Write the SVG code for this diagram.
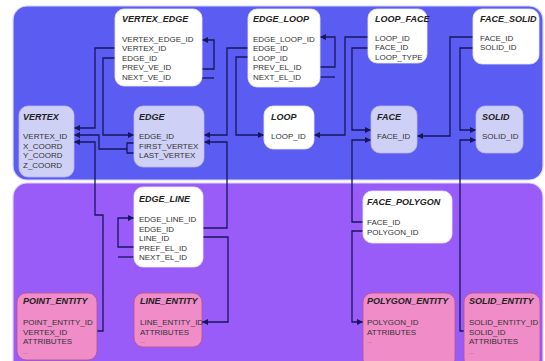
<svg xmlns="http://www.w3.org/2000/svg" width="545" height="361" viewBox="0 0 545 361">
  <style>
    .panel-top { fill: #5a5cf2; stroke: #d8d8ff; stroke-width: 1.2; }
    .panel-bot { fill: #9a5cf8; stroke: #e0d0ff; stroke-width: 1.2; }
    .white { fill: #ffffff; stroke: #e8e8f4; stroke-width: 0.8; }
    .lav { fill: #cfd0f6; stroke: #b8b8ee; stroke-width: 0.8; }
    .pink { fill: #f08cc8; stroke: #b8508e; stroke-width: 0.8; }
    .title { font-family: "Liberation Sans", Arial, sans-serif; font-size: 9px; font-weight: bold; font-style: italic; fill: #222; }
    .row { font-family: "Liberation Sans", Arial, sans-serif; font-size: 8px; fill: #333; }
    .dots { font-family: "Liberation Sans", Arial, sans-serif; font-size: 6px; fill: #666; }
    .link { fill: none; stroke: #16165c; stroke-width: 1.3; marker-end: url(#arrow); }
    .link-plain { fill: none; stroke: #16165c; stroke-width: 1.3; }
  </style>
  <defs>
    <marker id="arrow" viewBox="0 0 6 6" refX="6" refY="3" markerWidth="6" markerHeight="6" markerUnits="userSpaceOnUse" orient="auto">
      <path d="M0,0 L6,3 L0,6 z" fill="#16165c"/>
    </marker>
  </defs>

  <!-- background panels -->
  <rect class="panel-top" x="13" y="6" width="530" height="174" rx="14"/>
  <rect class="panel-bot" x="13" y="183" width="530" height="195" rx="14"/>

  <!-- connectors -->
  <g id="connectors">
    <path class="link" d="M115,48 H95 V128 H74"/>
    <path class="link" d="M115,58 H103 V135 H134"/>
    <path class="link-plain" d="M134,143 H127 V153 H134"/>
    <path class="link" d="M127,149 H99 V135 H74"/>
    <path class="link" d="M97,331 H103 V215 H95 V142 H74"/>
    <path class="link" d="M202,69 H214 V40 H202"/>
    <path class="link-plain" d="M202,78 H214"/>
    <path class="link" d="M320,67 H335 V37 H320"/>
    <path class="link-plain" d="M320,77 H335"/>
    <path class="link" d="M248,48 H227 V135 H204"/>
    <path class="link" d="M203,228 H227 V142 H204"/>
    <path class="link" d="M248,57 H236 V135 H264"/>
    <path class="link" d="M368,37 H345 V135 H314"/>
    <path class="link" d="M368,48 H352 V130 H371"/>
    <path class="link" d="M363,222 H352 V140 H371"/>
    <path class="link" d="M363,231 H352 V322 H363"/>
    <path class="link" d="M473,37 H450 V136 H417"/>
    <path class="link" d="M473,48 H460 V130 H476"/>
    <path class="link" d="M464,331 H460 V140 H476"/>
    <path class="link" d="M134,247 H118 V218 H134"/>
    <path class="link-plain" d="M134,257 H118"/>
    <path class="link" d="M203,237 H228 V322 H202"/>
  </g>

  <!-- top layer nodes -->
  <g id="vertex_edge">
    <rect class="white" x="115" y="9" width="87" height="77" rx="9"/>
    <text class="title" x="122" y="22">VERTEX_EDGE</text>
    <text class="row" x="122" y="41.5">VERTEX_EDGE_ID<tspan x="122" dy="9.5">VERTEX_ID</tspan><tspan x="122" dy="9.5">EDGE_ID</tspan><tspan x="122" dy="9.5">PREV_VE_ID</tspan><tspan x="122" dy="9.5">NEXT_VE_ID</tspan></text>
  </g>
  <g id="edge_loop">
    <rect class="white" x="248" y="9" width="72" height="78" rx="9"/>
    <text class="title" x="253" y="22">EDGE_LOOP</text>
    <text class="row" x="253" y="41.5">EDGE_LOOP_ID<tspan x="253" dy="9.5">EDGE_ID</tspan><tspan x="253" dy="9.5">LOOP_ID</tspan><tspan x="253" dy="9.5">PREV_EL_ID</tspan><tspan x="253" dy="9.5">NEXT_EL_ID</tspan></text>
  </g>
  <g id="loop_face">
    <rect class="white" x="368" y="9" width="59" height="54" rx="9"/>
    <text class="title" x="375" y="22">LOOP_FACE</text>
    <text class="row" x="375" y="40.5">LOOP_ID<tspan x="375" dy="9.5">FACE_ID</tspan><tspan x="375" dy="9.5">LOOP_TYPE</tspan></text>
  </g>
  <g id="face_solid">
    <rect class="white" x="473" y="9" width="66" height="55" rx="9"/>
    <text class="title" x="480" y="22">FACE_SOLID</text>
    <text class="row" x="480" y="40.5">FACE_ID<tspan x="480" dy="9.5">SOLID_ID</tspan></text>
  </g>
  <g id="vertex">
    <rect class="lav" x="19" y="106" width="55" height="71" rx="9"/>
    <text class="title" x="23" y="120">VERTEX</text>
    <text class="row" x="23" y="139">VERTEX_ID<tspan x="23" dy="9.5">X_COORD</tspan><tspan x="23" dy="9.5">Y_COORD</tspan><tspan x="23" dy="9.5">Z_COORD</tspan></text>
  </g>
  <g id="edge">
    <rect class="lav" x="134" y="106" width="70" height="61" rx="9"/>
    <text class="title" x="139" y="120">EDGE</text>
    <text class="row" x="139" y="139">EDGE_ID<tspan x="139" dy="9.5">FIRST_VERTEX</tspan><tspan x="139" dy="9.5">LAST_VERTEX</tspan></text>
  </g>
  <g id="loop">
    <rect class="white" x="264" y="106" width="50" height="43" rx="9"/>
    <text class="title" x="271" y="120">LOOP</text>
    <text class="row" x="271" y="139">LOOP_ID</text>
  </g>
  <g id="face">
    <rect class="lav" x="371" y="106" width="46" height="47" rx="9"/>
    <text class="title" x="377" y="120">FACE</text>
    <text class="row" x="377" y="139">FACE_ID</text>
  </g>
  <g id="solid">
    <rect class="lav" x="476" y="106" width="47" height="47" rx="9"/>
    <text class="title" x="482" y="120">SOLID</text>
    <text class="row" x="482" y="139">SOLID_ID</text>
  </g>

  <!-- geometry / entity layer nodes -->
  <g id="edge_line">
    <rect class="white" x="134" y="187" width="69" height="80" rx="9"/>
    <text class="title" x="139" y="202">EDGE_LINE</text>
    <text class="row" x="139" y="222">EDGE_LINE_ID<tspan x="139" dy="9.5">EDGE_ID</tspan><tspan x="139" dy="9.5">LINE_ID</tspan><tspan x="139" dy="9.5">PREF_EL_ID</tspan><tspan x="139" dy="9.5">NEXT_EL_ID</tspan></text>
  </g>
  <g id="face_polygon">
    <rect class="white" x="363" y="191" width="89" height="52" rx="9"/>
    <text class="title" x="367" y="205">FACE_POLYGON</text>
    <text class="row" x="367" y="225">FACE_ID<tspan x="367" dy="9.5">POLYGON_ID</tspan></text>
  </g>
  <g id="point_entity">
    <rect class="pink" x="17" y="293" width="80" height="67" rx="9"/>
    <text class="title" x="23" y="304">POINT_ENTITY</text>
    <text class="row" x="23" y="325">POINT_ENTITY_ID<tspan x="23" dy="9.5">VERTEX_ID</tspan><tspan x="23" dy="9.5">ATTRIBUTES</tspan></text>
    <text class="dots" x="23" y="354">...</text>
  </g>
  <g id="line_entity">
    <rect class="pink" x="134" y="293" width="68" height="54" rx="9"/>
    <text class="title" x="140" y="304">LINE_ENTITY</text>
    <text class="row" x="140" y="325">LINE_ENTITY_ID<tspan x="140" dy="9.5">ATTRIBUTES</tspan></text>
    <text class="dots" x="140" y="343">...</text>
  </g>
  <g id="polygon_entity">
    <rect class="pink" x="363" y="293" width="92" height="75" rx="9"/>
    <text class="title" x="367" y="304">POLYGON_ENTITY</text>
    <text class="row" x="367" y="325">POLYGON_ID<tspan x="367" dy="9.5">ATTRIBUTES</tspan></text>
    <text class="dots" x="367" y="343">...</text>
  </g>
  <g id="solid_entity">
    <rect class="pink" x="464" y="293" width="76" height="75" rx="9"/>
    <text class="title" x="469" y="304">SOLID_ENTITY</text>
    <text class="row" x="469" y="325">SOLID_ENTITY_ID<tspan x="469" dy="9.5">SOLID_ID</tspan><tspan x="469" dy="9.5">ATTRIBUTES</tspan></text>
    <text class="dots" x="469" y="354">...</text>
  </g>
</svg>
